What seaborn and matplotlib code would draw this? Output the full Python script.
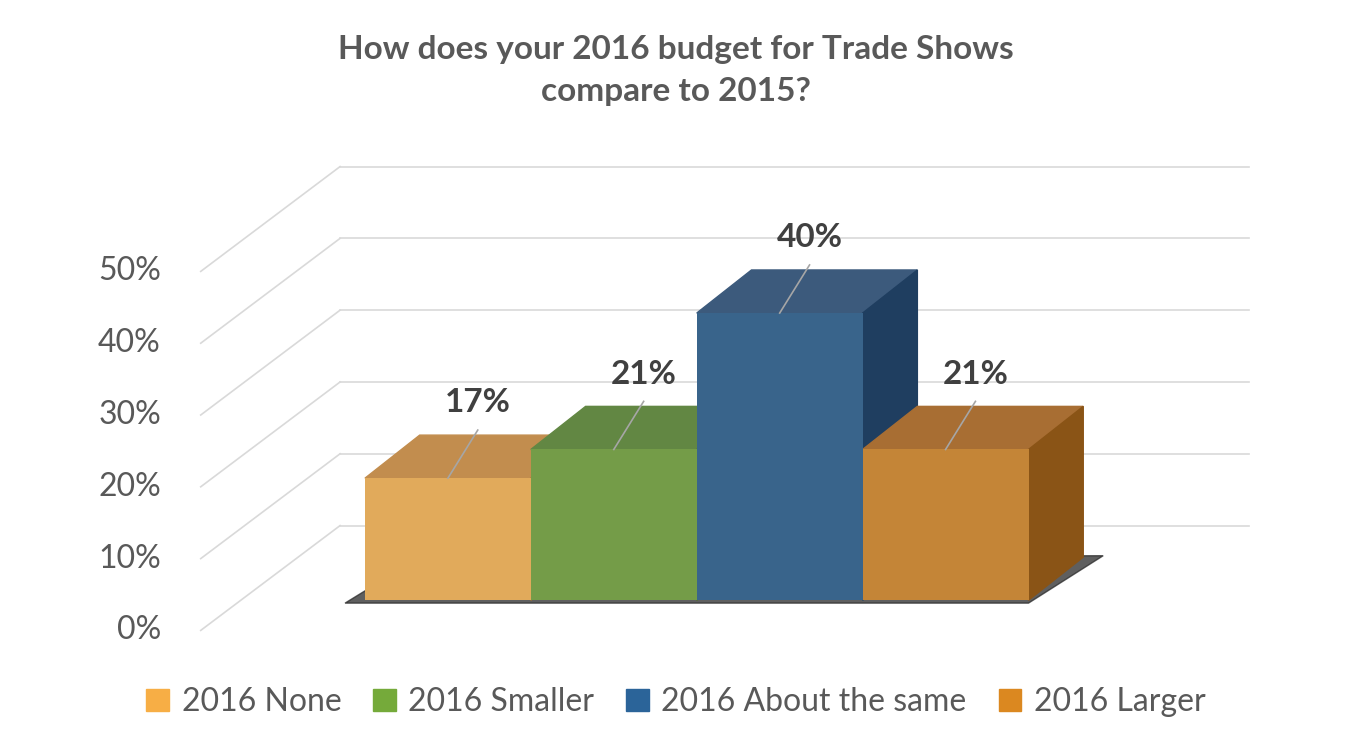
import matplotlib
matplotlib.use("Agg")
import matplotlib.pyplot as plt
import seaborn as sns
from matplotlib.patches import Polygon, Patch

plt.rcParams["font.family"] = ["Lato", "DejaVu Sans"]

categories = ["2016 None", "2016 Smaller", "2016 About the same", "2016 Larger"]
values = [17, 21, 40, 21]
labels = ["17%", "21%", "40%", "21%"]
tick_values = [0, 10, 20, 30, 40, 50]
tick_labels = ["0%", "10%", "20%", "30%", "40%", "50%"]

front = ["#F7AE45", "#75AA3A", "#2B6499", "#DB8820"]
top = ["#C28D4E", "#628743", "#3C5A7C", "#A86E33"]
side = ["#A9742A", "#4F7424", "#1F3E60", "#8A5416"]

fig = plt.figure(figsize=(13.52, 7.46), dpi=100)
ax = fig.add_axes([0, 0, 1, 1])
sns.barplot(x=categories, y=values, hue=categories, palette=front, width=1.0,
            legend=False, ax=ax, zorder=3, edgecolor="none")
ax.set_xlim(-2.70, 5.45)
ax.set_ylim(-20.3, 83.6)
ax.axis("off")

# depth of the 3D effect, in data units
dx, dy = 0.33, 6.0
wall_left, wall_right = -0.65, 4.83
back_dy, front_dx, front_dy = 10.4, -0.84, -4.2

grid_c = "#D9D9D9"
for v, t in zip(tick_values, tick_labels):
    ax.plot([wall_left, wall_right], [v + back_dy, v + back_dy], color=grid_c, lw=1.2, zorder=1)
    ax.plot([wall_left + front_dx, wall_left], [v + front_dy, v + back_dy],
            color=grid_c, lw=1.2, zorder=1)
    ax.text(wall_left + front_dx - 0.24, v + front_dy, t, ha="right", va="center",
            fontsize=23, color="#595959")

# floor shadow
ax.add_patch(Polygon([(-0.62, -0.4), (3.5, -0.4), (3.5 + dx + 0.12, dy + 0.2),
                      (-0.5 + dx, dy)], closed=True, color="#2a2a2a",
                     alpha=0.75, zorder=2))

for i, p in enumerate(ax.patches[:len(values)]):
    x0, w, h = p.get_x(), p.get_width(), p.get_height()
    x1 = x0 + w
    ax.add_patch(Polygon([(x0, h), (x1, h), (x1 + dx, h + dy), (x0 + dx, h + dy)],
                         closed=True, color=top[i], zorder=2.5))
    ax.add_patch(Polygon([(x1, 0), (x1 + dx, dy), (x1 + dx, h + dy), (x1, h)],
                         closed=True, color=side[i], zorder=2.5))
    cx = x0 + w / 2
    ax.plot([cx, cx + 0.18], [h, h + 6.7], color="#A6A6A6", lw=1.2, zorder=4)
    ax.text(cx + 0.18, h + 10.5, labels[i], ha="center", va="center",
            fontsize=24, fontweight="bold", color="#404040", zorder=5)

ax.text(0.5, 0.905, "How does your 2016 budget for Trade Shows\ncompare to 2015?",
        transform=ax.transAxes, ha="center", va="center", fontsize=24,
        fontweight="bold", color="#595959", linespacing=1.55)

handles = [Patch(color=c, label=l) for c, l in zip(front, categories)]
fig.legend(handles=handles, loc="lower center", ncol=4, frameon=False,
           fontsize=23, labelcolor="#595959", handlelength=0.7, handleheight=0.7,
           handletextpad=0.4, columnspacing=1.0, bbox_to_anchor=(0.5, 0.0))

fig.savefig("out.png", dpi=100)
